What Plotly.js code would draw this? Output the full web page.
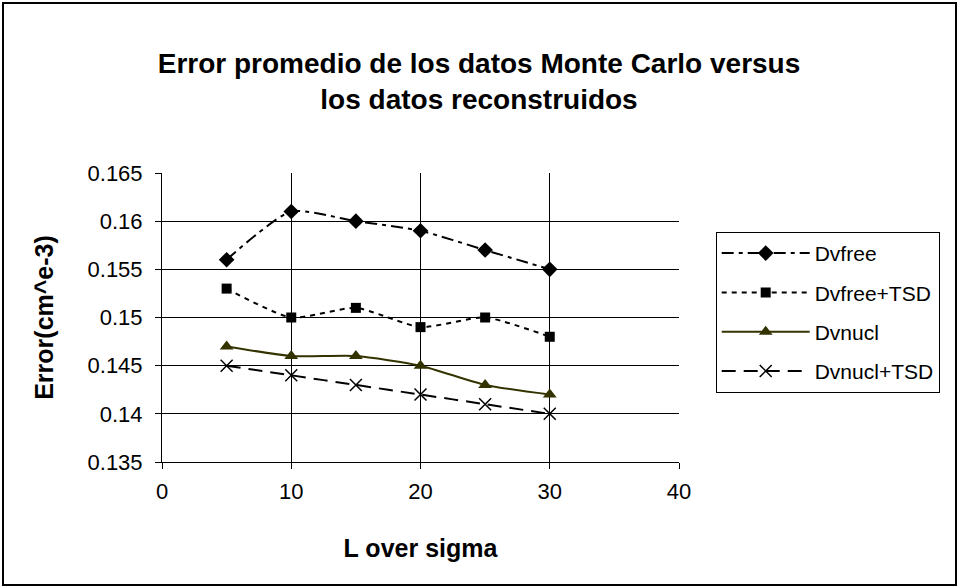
<!DOCTYPE html>
<html>
<head>
<meta charset="utf-8">
<script src="https://cdn.plot.ly/plotly-3.0.1.min.js"></script>
<style>
html,body{margin:0;padding:0;background:#fff;}
#chart{width:958px;height:587px;position:relative;}
#frame{position:absolute;left:2px;top:2px;width:951px;height:580px;border:2px solid #000;pointer-events:none;}
</style>
</head>
<body>
<div id="chart"></div>
<div id="frame"></div>
<script>
const xValues = [5, 10, 15, 20, 25, 30];
const dvfree = [0.156, 0.161, 0.160, 0.159, 0.157, 0.155];
const dvfreeTSD = [0.153, 0.150, 0.151, 0.149, 0.150, 0.148];
const dvnucl = [0.147, 0.146, 0.146, 0.145, 0.143, 0.142];
const dvnuclTSD = [0.145, 0.144, 0.143, 0.142, 0.141, 0.140];
const seriesNames = ["Dvfree", "Dvfree+TSD", "Dvnucl", "Dvnucl+TSD"];
const xTicks = [0, 10, 20, 30, 40];
const yTicks = [0.135, 0.14, 0.145, 0.15, 0.155, 0.16, 0.165];
const yTickLabels = ["0.135", "0.14", "0.145", "0.15", "0.155", "0.16", "0.165"];

const font = "Liberation Sans, Arial, sans-serif";

const traces = [
  {x: xValues, y: dvfree, name: seriesNames[0], mode: "lines+markers", legendgroup: "a",
   line: {color: "#000", width: 2, dash: "12px,5px,4px,5px", shape: "spline", smoothing: 0.6},
   marker: {symbol: "diamond", size: 12, color: "#000"}},
  {x: xValues, y: dvfreeTSD, name: seriesNames[1], mode: "lines+markers", legendgroup: "b",
   line: {color: "#000", width: 2, dash: "5px,5px", shape: "spline", smoothing: 0.6},
   marker: {symbol: "square", size: 10, color: "#000"}},
  {x: xValues, y: dvnucl, name: seriesNames[2], mode: "lines+markers", legendgroup: "c",
   line: {color: "#333300", width: 2, shape: "spline", smoothing: 0.6},
   marker: {symbol: "triangle-up", size: 12, color: "#333300"}},
  {x: xValues, y: dvnuclTSD, name: seriesNames[3], mode: "lines+markers", legendgroup: "d",
   line: {color: "#000", width: 2, dash: "14px,8px", shape: "spline", smoothing: 0.6},
   marker: {symbol: "x-thin", size: 12, color: "#000", line: {width: 1.5, color: "#000"}}}
];

const layout = {
  width: 958, height: 587,
  margin: {l: 162, r: 279, t: 173, b: 125},
  paper_bgcolor: "#fff", plot_bgcolor: "#fff",
  font: {family: font, size: 21, color: "#000"},
  title: {text: "<b>Error promedio de los datos Monte Carlo versus<br>los datos reconstruidos</b>",
          font: {family: font, size: 28, color: "#000"}, x: 0.5, xref: "container", xanchor: "center",
          y: 0.876, yref: "container", yanchor: "middle"},
  xaxis: {range: [0, 40], tickvals: xTicks, ticktext: xTicks.map(String),
          showgrid: true, gridcolor: "#000", gridwidth: 1,
          showline: true, linecolor: "#000", linewidth: 1,
          ticks: "outside", ticklen: 6, tickcolor: "#000", zeroline: false,
          tickfont: {size: 22}, ticklabelstandoff: 4, fixedrange: true,
          title: {text: "<b>L over sigma</b>", font: {size: 25}, standoff: 36}},
  yaxis: {range: [0.135, 0.165], tickvals: yTicks, ticktext: yTickLabels,
          showgrid: true, gridcolor: "#000", gridwidth: 1,
          showline: true, linecolor: "#000", linewidth: 1,
          ticks: "outside", ticklen: 6, tickcolor: "#000", zeroline: false,
          tickfont: {size: 22}, ticklabelstandoff: 8, fixedrange: true,
          title: {text: "<b>Error(cm^e-3)</b>", font: {size: 25}, standoff: 26}},
  legend: {x: 1.071, xanchor: "left", y: 0.796, yanchor: "top",
           bordercolor: "#000", borderwidth: 1, bgcolor: "#fff",
           font: {size: 21}, itemwidth: 88, traceorder: "grouped", tracegroupgap: 9},
  showlegend: true
};

Plotly.newPlot("chart", traces, layout, {displayModeBar: false, staticPlot: true});
</script>
</body>
</html>
